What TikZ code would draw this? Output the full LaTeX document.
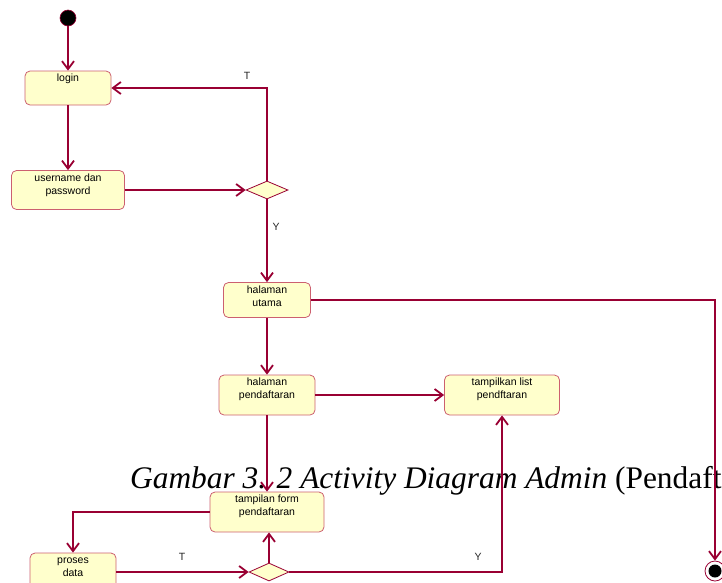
\documentclass[tikz,border=0pt]{standalone}
\usepackage{fontspec}
\setmainfont{Liberation Sans}
\newfontfamily\capfont{Liberation Serif}
\usetikzlibrary{arrows.meta,shapes.geometric,calc}
\definecolor{flow}{RGB}{153,0,51}
\definecolor{actfill}{RGB}{255,255,204}
\definecolor{actedge}{RGB}{204,96,112}
% activity label: fixed-size box, text set from the top
\newcommand{\acttext}[3]{\parbox[c][#2][t]{#1}{\centering\fontsize{10.5}{13}\selectfont\rule{0pt}{10.5pt}#3}}

\begin{document}
\begin{tikzpicture}[x=1pt,y=-1pt,
  activity/.style={draw=actedge, line width=0.8pt, fill=actfill, rounded corners=5pt, inner sep=0pt},
  decision/.style={diamond, draw=flow, line width=0.8pt, fill=actfill, inner sep=0pt,
                   minimum width=42pt, minimum height=18pt},
  flowline/.style={draw=flow, line width=1.8pt, -{Straight Barb[length=8pt,width=12pt]}},
  guard/.style={font=\fontsize{10.5}{12}\selectfont, text=black!85, inner sep=0pt}
]
\useasboundingbox (0,0) rectangle (722,582);
\clip (0,0) rectangle (722,582);

% caption text behind the flows
\node[anchor=base west, inner sep=0pt, font=\capfont\fontsize{31.4}{36}\selectfont] (caption) at (130,488)
  {\itshape Gambar 3. 2 Activity Diagram Admin\/ \upshape(Pendaft};

% nodes
\node[circle, fill=black, draw=flow, line width=0.6pt, minimum size=16pt, inner sep=0pt] (start) at (68,18) {};
\node[activity] (login)  at (68,88)   {\acttext{86pt}{34pt}{login}};
\node[activity] (user)   at (68,190)  {\acttext{113pt}{39pt}{username dan\\password}};
\node[decision] (d1)     at (267,190) {};
\node[activity] (utama)  at (267,300) {\acttext{87pt}{35pt}{halaman\\utama}};
\node[activity] (daftar) at (267,395) {\acttext{96pt}{40pt}{halaman\\pendaftaran}};
\node[activity] (list)   at (502,395) {\acttext{115pt}{40pt}{tampilkan list\\pendftaran}};
\node[activity] (form)   at (267,512) {\acttext{114pt}{40pt}{tampilan form\\pendaftaran}};
\node[activity] (proses) at (73,573)  {\acttext{86pt}{40pt}{proses\\data}};
\node[decision, minimum width=40pt] (d2) at (269,572) {};
\node[circle, draw=flow, fill=white, line width=0.8pt, minimum size=20pt, inner sep=0pt] (end) at (715,571) {};
\node[circle, fill=black, minimum size=13pt, inner sep=0pt] (endcore) at (end.center) {};

% flows
\draw[flowline] (start) -- (login);
\draw[flowline] (login) -- (user);
\draw[flowline] (user.east |- d1.west) -- (d1.west);
\draw[flowline] (d1.north) |- (login.east);
\draw[flowline] (d1.south) -- (utama.north);
\draw[flowline] (utama.east) -| (end.north);
\draw[flowline] (utama.south) -- (daftar.north);
\draw[flowline] (daftar.east) -- (list.west);
\draw[flowline] (daftar.south) -- (form.north);
\draw[flowline] (form.west) -| (proses.north);
\draw[flowline] (d2.west -| proses.east) -- (d2.west);
\draw[flowline] (d2.north) -- (d2.north |- form.south);
\draw[flowline] (d2.east) -| (list.south);

% guards
\node[guard] (t1) at (247,76)  {T};
\node[guard] (y1) at (276,227) {Y};
\node[guard] (t2) at (182,557) {T};
\node[guard] (y2) at (478,557) {Y};
\end{tikzpicture}
\end{document}
